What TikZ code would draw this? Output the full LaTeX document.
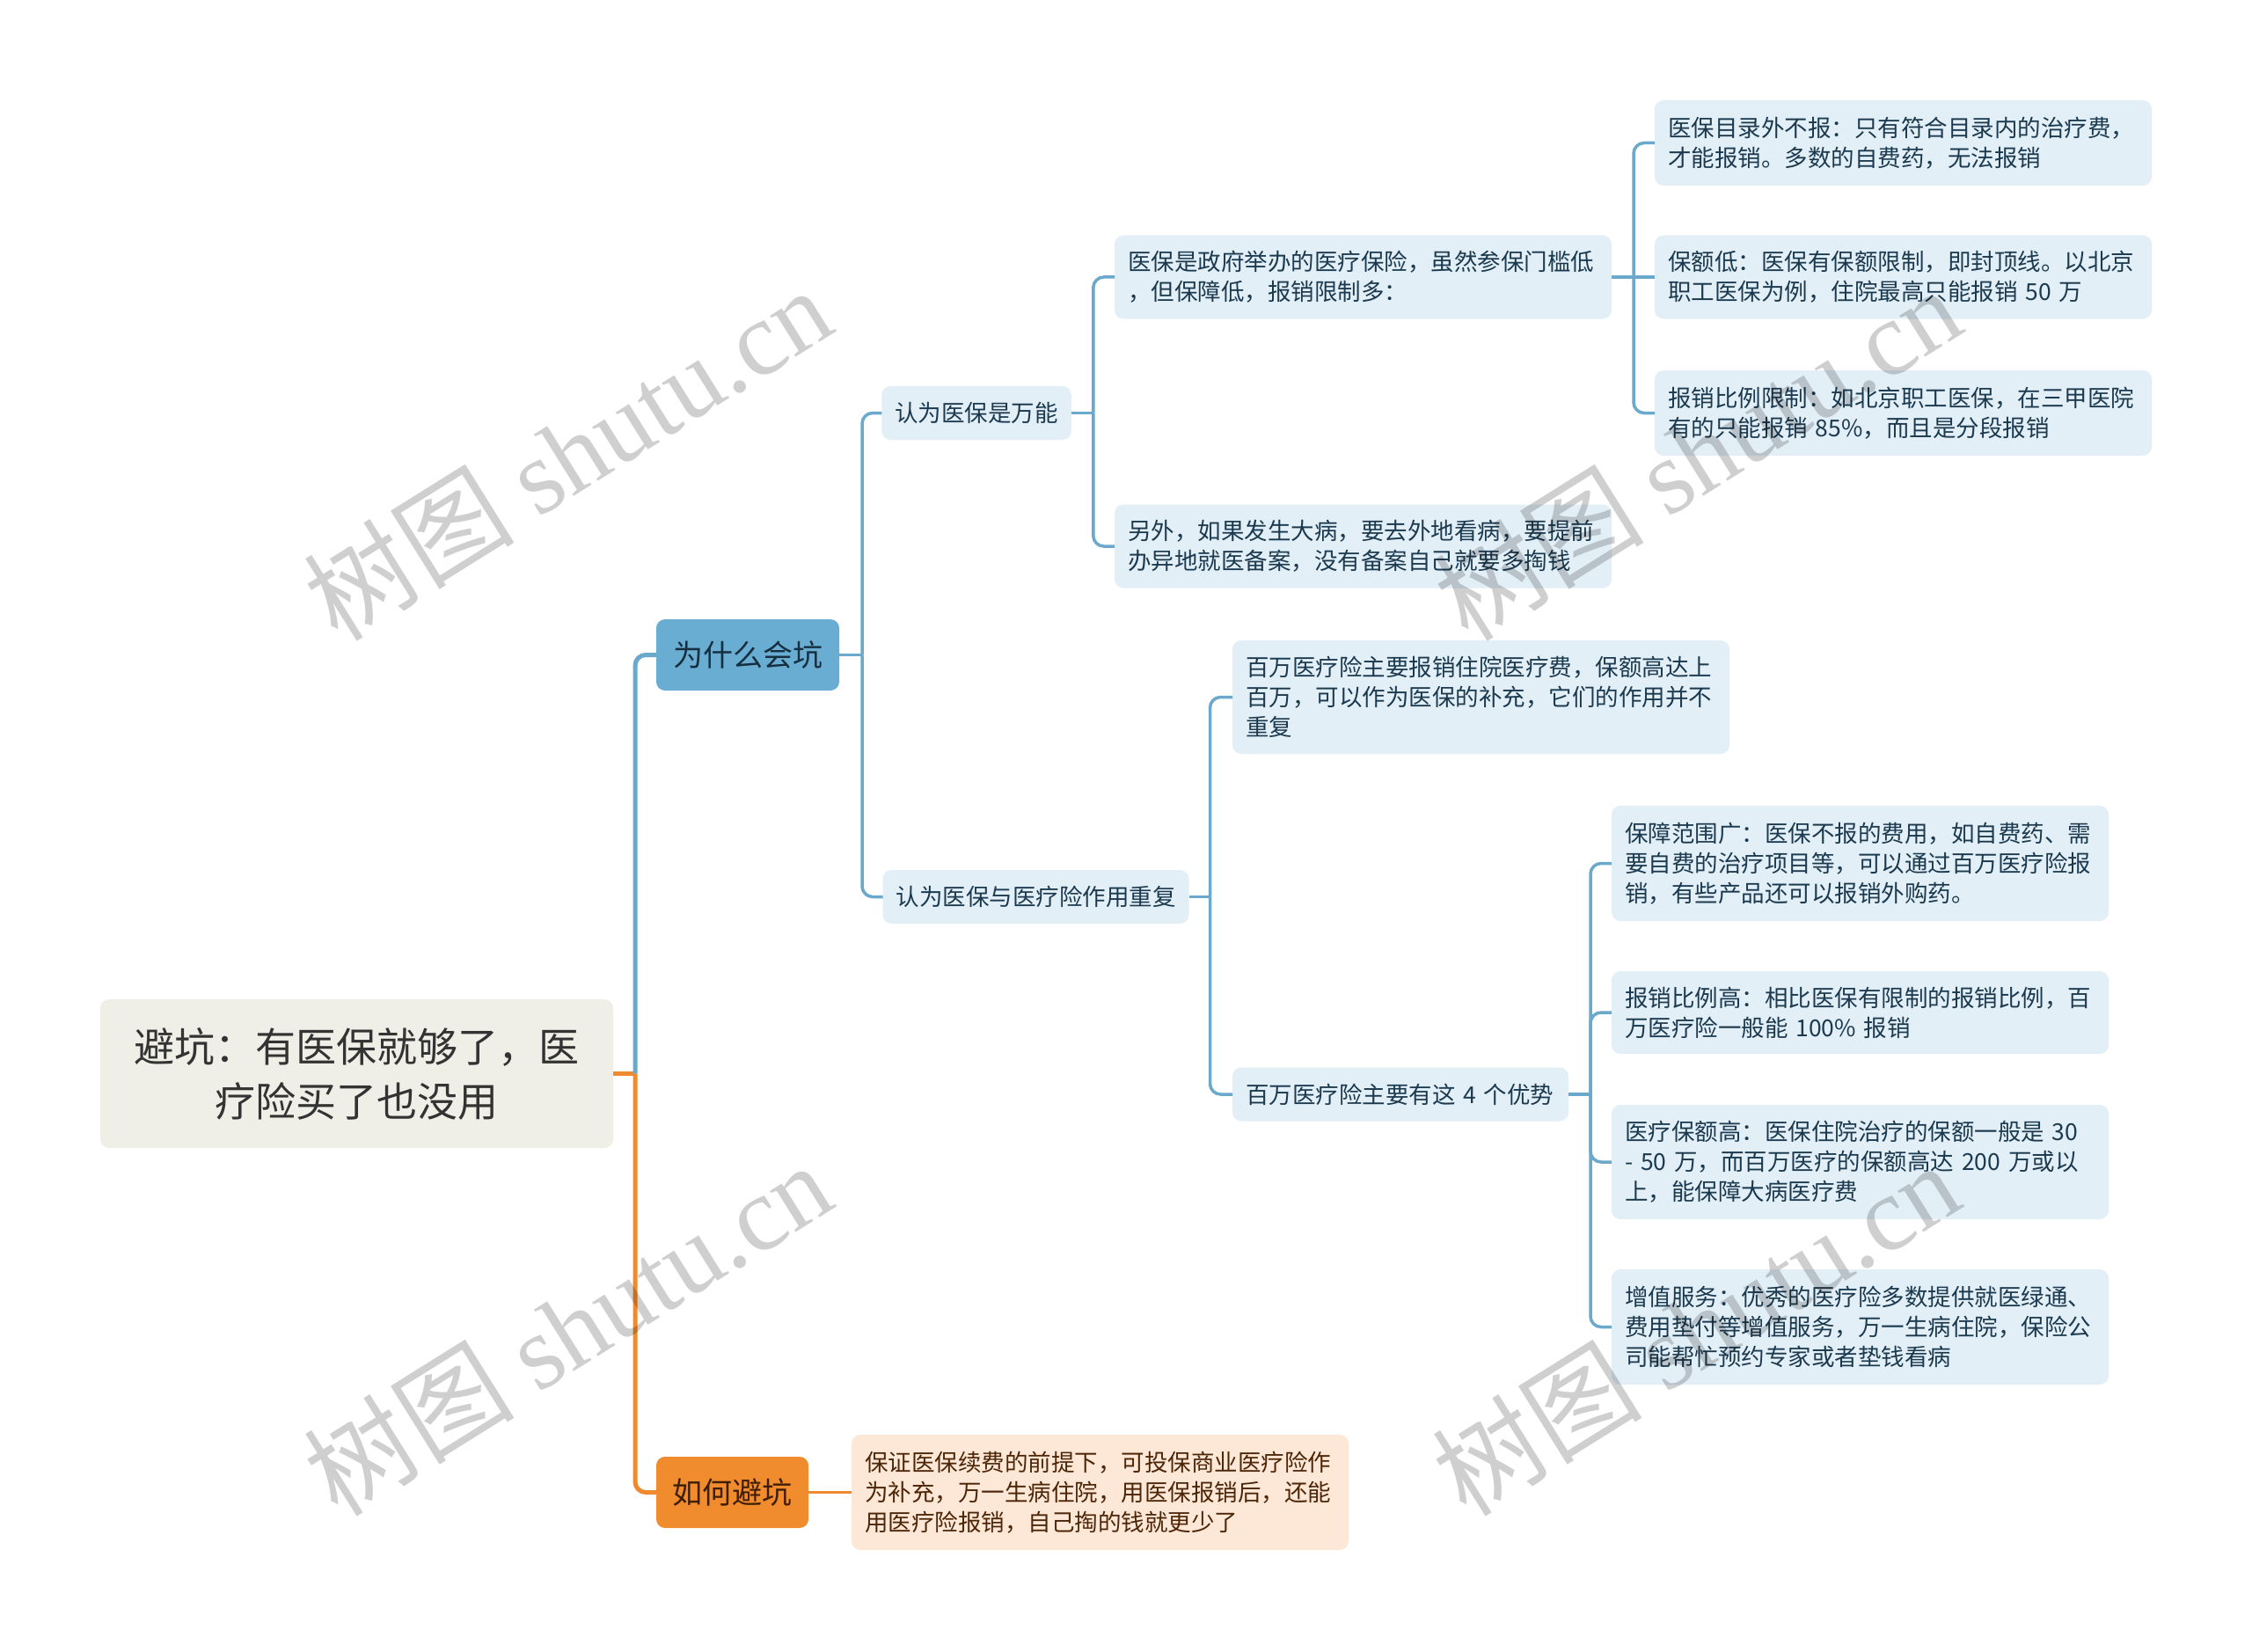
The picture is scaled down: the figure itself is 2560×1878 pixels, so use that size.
\documentclass[tikz,border=0pt]{standalone}
\usepackage{fontspec}
\setmainfont{Noto Sans CJK SC}
\newfontfamily\wmlatin{Liberation Serif}
\definecolor{lightblue}{HTML}{E3EFF7}
\definecolor{bluefill}{HTML}{69AED2}
\definecolor{orangefill}{HTML}{F08B2E}
\definecolor{lorange}{HTML}{FDE7D7}
\definecolor{rootfill}{HTML}{EFEFE8}
\definecolor{blueline}{HTML}{6AA9CB}
\definecolor{orangeline}{HTML}{EE8A2F}
\definecolor{bluetext}{HTML}{1B3A4F}
\definecolor{browntext}{HTML}{4D2507}
\definecolor{roottext}{HTML}{333333}
\begin{document}
\begin{tikzpicture}[x=1pt,y=-1pt,
  every node/.style={inner sep=0pt, outer sep=0pt},
  leaf/.style={rounded corners=10pt, fill=lightblue, text=bluetext, align=left,
    inner xsep=15pt, inner ysep=0pt, font=\fontsize{26.5pt}{34pt}\selectfont},
  wide/.style={leaf, text width=535pt},
  tip/.style={wide, fill=lorange, text=browntext},
  topic/.style={rounded corners=10pt, align=center, minimum height=81pt,
    font=\fontsize{34pt}{40pt}\selectfont},
  link/.style={draw=blueline, line width=3.5pt, rounded corners=12pt},
  olink/.style={draw=orangeline, line width=3.5pt, rounded corners=12pt},
  mainb/.style={draw=blueline, line width=5pt, rounded corners=12pt},
  maino/.style={draw=orangeline, line width=5pt, rounded corners=12pt},
  wm/.style={rotate=32, text=black, text opacity=0.19}
]
\fill[white] (0,0) rectangle (2560,1878);
\useasboundingbox (0,0) rectangle (2560,1878);

% nodes
\node[rounded corners=10pt, fill=rootfill, text=roottext, align=center,
  minimum width=583pt, minimum height=169pt,
  font=\fontsize{46pt}{62pt}\selectfont] (root) at (405.5,1220.5)
  {避坑：有医保就够了，医\\疗险买了也没用};
\node[topic, fill=bluefill, text=bluetext!80!black, minimum width=208pt] (why) at (850,744.5) {为什么会坑};
\node[topic, fill=orangefill, text=browntext!80!black, minimum width=173pt] (how) at (832.5,1696.5) {如何避坑};

\node[leaf, minimum height=61pt] (l2a) at (1110,469.5) {认为医保是万能};
\node[leaf, minimum height=61pt] (l2b) at (1177.5,1019.5) {认为医保与医疗险作用重复};

\node[wide, minimum height=95pt] (a) at (1549.5,315) {医保是政府举办的医疗保险，虽然参保门槛低\\，但保障低，报销限制多：};
\node[wide, minimum height=95pt] (b) at (1549.5,621) {另外，如果发生大病，要去外地看病，要提前\\办异地就医备案，没有备案自己就要多掏钱};
\node[wide, minimum height=129pt] (c) at (1683.5,792.5) {百万医疗险主要报销住院医疗费，保额高达上\\百万，可以作为医保的补充，它们的作用并不\\重复};
\node[leaf, text width=352pt, minimum height=61pt] (d) at (1592,1244) {百万医疗险主要有这 4 个优势};

\node[wide, minimum height=97pt] (a1) at (2163.5,162.5) {医保目录外不报：只有符合目录内的治疗费，\\才能报销。多数的自费药，无法报销};
\node[wide, minimum height=95pt] (a2) at (2163.5,315) {保额低：医保有保额限制，即封顶线。以北京\\职工医保为例，住院最高只能报销 50 万};
\node[wide, minimum height=97pt] (a3) at (2163.5,469.5) {报销比例限制：如北京职工医保，在三甲医院\\有的只能报销 85\%，而且是分段报销};

\node[wide, minimum height=131pt] (d1) at (2114.5,981.5) {保障范围广：医保不报的费用，如自费药、需\\要自费的治疗项目等，可以通过百万医疗险报\\销，有些产品还可以报销外购药。};
\node[wide, minimum height=94pt] (d2) at (2114.5,1151) {报销比例高：相比医保有限制的报销比例，百\\万医疗险一般能 100\% 报销};
\node[wide, minimum height=130pt] (d3) at (2114.5,1321) {医疗保额高：医保住院治疗的保额一般是 30\\- 50 万，而百万医疗的保额高达 200 万或以\\上，能保障大病医疗费};
\node[wide, minimum height=131pt] (d4) at (2114.5,1508.5) {增值服务：优秀的医疗险多数提供就医绿通、\\费用垫付等增值服务，万一生病住院，保险公\\司能帮忙预约专家或者垫钱看病};

\node[tip, minimum height=131pt] (o1) at (1250.5,1696.5) {保证医保续费的前提下，可投保商业医疗险作\\为补充，万一生病住院，用医保报销后，还能\\用医疗险报销，自己掏的钱就更少了};

% connectors
\path (root.east) ++(25,0) coordinate (j0);
\path (why.east) ++(26,0) coordinate (j1);
\path (l2a.east) ++(25,0) coordinate (j2);
\path (a.east) ++(25,0) coordinate (j3);
\path (l2b.east) ++(24,0) coordinate (j4);
\path (d.east) ++(25,0) coordinate (j5);

\draw[maino] (root.east) -- (j0);
\draw[mainb] (j0) |- (why.west);
\draw[maino] (j0) |- (how.west);

\draw[link] (why.east) -- (j1);
\draw[link] (j1) |- (l2a.west);
\draw[link] (j1) |- (l2b.west);

\draw[link] (l2a.east) -- (j2);
\draw[link] (j2) |- (a.west);
\draw[link] (j2) |- (b.west);

\draw[link] (a.east) -- (a2.west);
\draw[link] (j3) |- (a1.west);
\draw[link] (j3) |- (a3.west);

\draw[link] (l2b.east) -- (j4);
\draw[link] (j4) |- (c.west);
\draw[link] (j4) |- (d.west);

\draw[link] (d.east) -- (j5);
\draw[link] (j5) |- (d1.west);
\draw[link] (j5) |- (d2.west);
\draw[link] (j5) |- (d3.west);
\draw[link] (j5) |- (d4.west);

\draw[olink] (how.east) -- (o1.west);

% watermarks
\node[wm] (wm1) at (645,515) {\fontsize{120pt}{120pt}\selectfont 树图 \wmlatin shutu.cn};
\node[wm] (wm2) at (1929,515) {\fontsize{120pt}{120pt}\selectfont 树图 \wmlatin shutu.cn};
\node[wm] (wm3) at (645,1510) {\fontsize{120pt}{120pt}\selectfont 树图 \wmlatin shutu.cn};
\node[wm] (wm4) at (1927,1510) {\fontsize{120pt}{120pt}\selectfont 树图 \wmlatin shutu.cn};
\end{tikzpicture}
\end{document}
